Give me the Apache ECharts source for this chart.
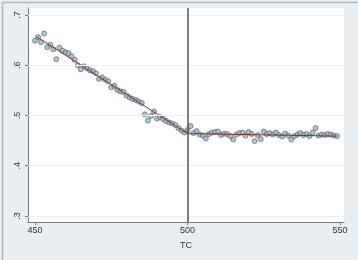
<!DOCTYPE html>
<html>
<head>
<meta charset="utf-8">
<script src="https://cdn.jsdelivr.net/npm/echarts@6/dist/echarts.min.js"></script>
<style>
html,body{margin:0;padding:0;background:#E9EEF2;}
#c{width:358px;height:260px;}
</style>
</head>
<body>
<div id="c"></div>
<script>
// Data
const leftX = [450,451,452,453,454,455,456,457,458,459,460,461,462,463,464,465,466,467,468,469,470,471,472,473,474,475,476,477,478,479,480,481,482,483,484,485,486,487,488,489,490,491,492,493,494,495,496,497,498,499];
const leftY = [.649,.656,.646,.663,.636,.641,.632,.612,.635,.629,.626,.624,.618,.611,.600,.592,.598,.594,.590,.588,.584,.573,.576,.571,.568,.556,.559,.551,.548,.547,.540,.536,.533,.531,.528,.525,.502,.490,.499,.508,.494,.497,.493,.489,.486,.484,.481,.475,.470,.466];
const rightX = [500,501,502,503,504,505,506,507,508,509,510,511,512,513,514,515,516,517,518,519,520,521,522,523,524,525,526,527,528,529,530,531,532,533,534,535,536,537,538,539,540,541,542,543,544,545,546,547,548,549];
const rightY = [.471,.479,.465,.469,.462,.460,.454,.463,.466,.467,.468,.461,.464,.463,.459,.452,.462,.465,.466,.460,.467,.463,.449,.461,.453,.468,.463,.465,.462,.466,.461,.458,.464,.460,.452,.459,.462,.465,.461,.463,.459,.466,.475,.460,.462,.461,.463,.462,.460,.459];
const fitLeftX = [450.5, 500];
const fitLeftY = [0.657, 0.464];
const fitRightX = [500, 549];
const fitRightY = [0.464, 0.459];
const cutoff = 500;
const xTicks = [450, 500, 550];
const yTicks = [0.3, 0.4, 0.5, 0.6, 0.7];
const xName = 'TC';

const zip = (a, b) => a.map((v, i) => [v, b[i]]);
const pts = zip(leftX, leftY).concat(zip(rightX, rightY));

const chart = echarts.init(document.getElementById('c'), null, {renderer: 'canvas'});
const labelFont = {color: '#333', fontSize: 9, fontFamily: 'Liberation Sans, Arial, sans-serif'};
chart.setOption({
  animation: false,
  backgroundColor: '#E9EEF2',
  grid: {left: 28, right: 14, top: 8, bottom: 38, show: true, backgroundColor: '#ffffff', borderWidth: 0},
  graphic: [{
    type: 'rect', left: 0, top: 0, z: 100, silent: true,
    shape: {x: 0.5, y: 0.5, width: 357, height: 259},
    style: {fill: 'none', stroke: '#B5B9BD', lineWidth: 1.5}
  }],
  xAxis: {
    type: 'value', min: 447.7, max: 551.3,
    name: xName, nameLocation: 'middle', nameGap: 19,
    nameTextStyle: labelFont,
    axisLine: {show: true, lineStyle: {color: '#7a7a7a', width: 1}},
    axisTick: {show: true, length: 3, customValues: xTicks, lineStyle: {color: '#7a7a7a'}},
    axisLabel: Object.assign({customValues: xTicks, margin: 4, showMinLabel: true, showMaxLabel: true}, labelFont),
    splitLine: {show: false}
  },
  yAxis: {
    type: 'value', min: 0.288, max: 0.714,
    axisLine: {show: true, lineStyle: {color: '#7a7a7a', width: 1}},
    axisTick: {show: true, length: 3, customValues: yTicks, lineStyle: {color: '#7a7a7a'}},
    axisLabel: Object.assign({customValues: yTicks, margin: 6, rotate: 90,
      formatter: v => String(Math.round(v * 10) / 10).replace(/^0/, '')}, labelFont),
    splitLine: {show: false}
  },
  series: [
    {
      type: 'line', data: [], silent: true,
      markLine: {
        symbol: 'none', silent: true, label: {show: false},
        lineStyle: {color: '#EEF2F4', width: 1, type: 'solid'},
        data: yTicks.map(v => ({yAxis: v}))
      }
    },
    {
      type: 'scatter', data: pts, symbol: 'circle', symbolSize: 5, z: 3,
      itemStyle: {color: '#9DB4BF', borderColor: '#4E5A63', borderWidth: 0.8}
    },
    {
      type: 'line', data: zip(fitLeftX, fitLeftY), symbol: 'none', z: 4,
      lineStyle: {color: '#8E2A2A', width: 1}
    },
    {
      type: 'line', data: zip(fitRightX, fitRightY), symbol: 'none', z: 4,
      lineStyle: {color: '#8E2A2A', width: 1},
      markLine: {
        symbol: 'none', silent: true, label: {show: false},
        lineStyle: {color: '#555', width: 1.5, type: 'solid'},
        data: [{xAxis: cutoff}]
      }
    }
  ]
});
</script>
</body>
</html>
